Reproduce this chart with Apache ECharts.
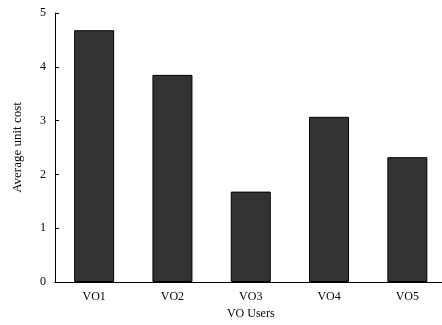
<!DOCTYPE html>
<html><head><meta charset="utf-8">
<script src="https://cdn.jsdelivr.net/npm/echarts@6/dist/echarts.min.js"></script>
<style>html,body{margin:0;padding:0;background:#fff}#c{width:442px;height:325px}</style>
</head><body><div id="c"></div>
<script>
const categories = ['VO1','VO2','VO3','VO4','VO5'];
const values = [4.68, 3.85, 1.68, 3.07, 2.32];
const yTicks = [0,1,2,3,4,5];

const font = 'Liberation Serif';
const chart = echarts.init(document.getElementById('c'), null, {renderer:'canvas'});
const lineStyle = {color:'#000', width:1};
chart.setOption({
  animation:false,
  grid:{left:55, top:13, right:-4.5, bottom:43, containLabel:false, outerBoundsMode:'none'},
  xAxis:[{
    type:'category', data:categories, position:'bottom',
    axisLine:{lineStyle}, axisTick:{show:false},
    axisLabel:{color:'#000', fontFamily:font, fontSize:12, margin:9},
    name:'VO Users', nameLocation:'middle', nameGap:25,
    nameTextStyle:{color:'#000', fontFamily:font, fontSize:12}
  },{
    type:'category', data:categories, position:'top',
    axisLine:{lineStyle}, axisTick:{inside:true, alignWithLabel:true, length:4, lineStyle},
    axisLabel:{show:false}
  }],
  yAxis:[{
    type:'value', min:0, max:5, interval:1, position:'left',
    axisLine:{show:true, lineStyle}, axisTick:{show:true, inside:true, length:4, lineStyle},
    splitLine:{show:false},
    axisLabel:{color:'#000', fontFamily:font, fontSize:12, margin:9,
      formatter:v=>yTicks.includes(v)?String(v):''},
    name:'Average unit cost', nameLocation:'middle', nameGap:31, nameRotate:90,
    nameTextStyle:{color:'#000', fontFamily:font, fontSize:13}
  },{
    type:'value', min:0, max:5, interval:1, position:'right',
    axisLine:{show:true, lineStyle}, axisTick:{show:true, inside:true, length:4, lineStyle},
    splitLine:{show:false}, axisLabel:{show:false}
  }],
  series:[{
    type:'bar', data:values, barWidth:40,
    itemStyle:{color:'#333333', borderColor:'#000', borderWidth:1}
  }]
});
</script></body></html>
